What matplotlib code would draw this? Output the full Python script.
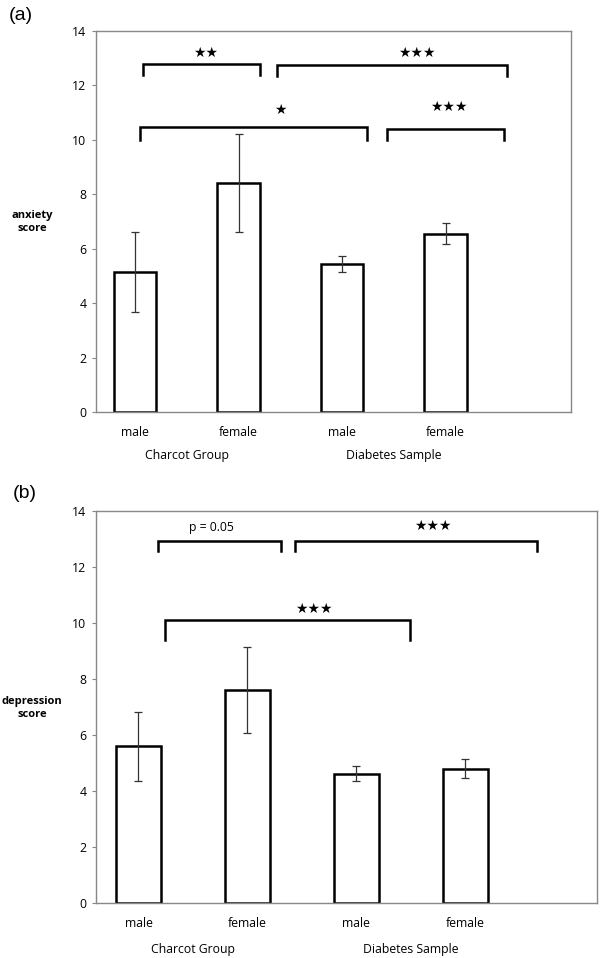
import matplotlib
matplotlib.use("Agg")
import matplotlib.pyplot as plt

categories = ["male", "female", "male", "female"]
groups = ["Charcot Group", "Diabetes Sample"]
anxiety = [5.15, 8.43, 5.44, 6.55]
anxiety_err = [1.47, 1.80, 0.31, 0.38]
depression = [5.58, 7.60, 4.60, 4.78]
depression_err = [1.24, 1.53, 0.27, 0.34]
yticks = [0, 2, 4, 6, 8, 10, 12, 14]

# brackets: (x1, x2, y, drop, label, text x, text y)
anx_brackets = [(0.08, 1.21, 12.78, 0.40, "★★", 0.68, 13.2),
                (1.37, 3.59, 12.76, 0.40, "★★★", 2.72, 13.2),
                (0.05, 2.24, 10.49, 0.49, "★", 1.40, 11.1),
                (2.43, 3.56, 10.40, 0.40, "★★★", 3.03, 11.2)]
dep_brackets = [(0.18, 1.31, 12.93, 0.37, "p = 0.05", 0.67, 13.4),
                (1.44, 3.66, 12.93, 0.37, "★★★", 2.70, 13.45),
                (0.24, 2.49, 10.10, 0.70, "★★★", 1.61, 10.5)]

fig = plt.figure(figsize=(6, 9.58), dpi=100)
tick_font = "Open Sans"


def panel(ax, vals, errs, brackets, xlim, label_y):
    x = list(range(len(vals)))
    ax.bar(x, vals, width=0.41, color="white", edgecolor="black", linewidth=1.8, zorder=2)
    ax.errorbar(x, vals, yerr=errs, fmt="none", ecolor="#333333", elinewidth=0.9,
                capsize=3.2, capthick=0.9, zorder=3)
    ax.set_xlim(*xlim)
    ax.set_ylim(0, 14)
    ax.set_yticks(yticks)
    ax.set_yticklabels([str(t) for t in yticks], fontfamily=tick_font, fontsize=8.8)
    ax.set_xticks(x)
    ax.set_xticklabels(categories, fontfamily=tick_font, fontsize=8.8)
    ax.tick_params(axis="x", length=0, pad=10)
    ax.tick_params(axis="y", length=3, width=0.8, color="#888888", pad=4)
    for s in ax.spines.values():
        s.set_color("#888888")
        s.set_linewidth(1.0)
    for (x1, x2, y, d, txt, tx, ty) in brackets:
        ax.plot([x1, x1, x2, x2], [y - d, y, y, y - d], color="black", lw=1.8,
                solid_joinstyle="miter", clip_on=False)
        if txt.startswith("p"):
            ax.text(tx, ty, txt, ha="center", va="center", fontsize=8.8, fontfamily=tick_font)
        else:
            ax.text(tx, ty, txt, ha="center", va="center", fontsize=10, fontfamily="DejaVu Sans")
    ax.text(0.5, label_y, groups[0], transform=ax.get_xaxis_transform(), ha="center",
            va="center", fontsize=8.8, fontfamily=tick_font)
    ax.text(2.5, label_y, groups[1], transform=ax.get_xaxis_transform(), ha="center",
            va="center", fontsize=8.8, fontfamily=tick_font)
    return ax


ax1 = fig.add_axes([0.16, 0.5699, 0.7917, 0.3977])
panel(ax1, anxiety, anxiety_err, anx_brackets, (-0.377, 4.21), -0.115)
ax2 = fig.add_axes([0.16, 0.0577, 0.835, 0.4092])
panel(ax2, depression, depression_err, dep_brackets, (-0.39, 4.21), -0.12)

fig.text(32 / 600, 1 - 222 / 958, "anxiety\nscore", ha="center", va="center", fontsize=8,
         fontweight="bold", fontfamily=tick_font, linespacing=1.2)
fig.text(32 / 600, 1 - 708 / 958, "depression\nscore", ha="center", va="center", fontsize=8,
         fontweight="bold", fontfamily=tick_font, linespacing=1.2)
fig.text(9 / 600, 1 - 16 / 958, "(a)", ha="left", va="center", fontsize=14,
         fontfamily="Liberation Sans")
fig.text(13 / 600, 1 - 493 / 958, "(b)", ha="left", va="center", fontsize=14,
         fontfamily="Liberation Sans")

fig.savefig("out.png", dpi=100)
